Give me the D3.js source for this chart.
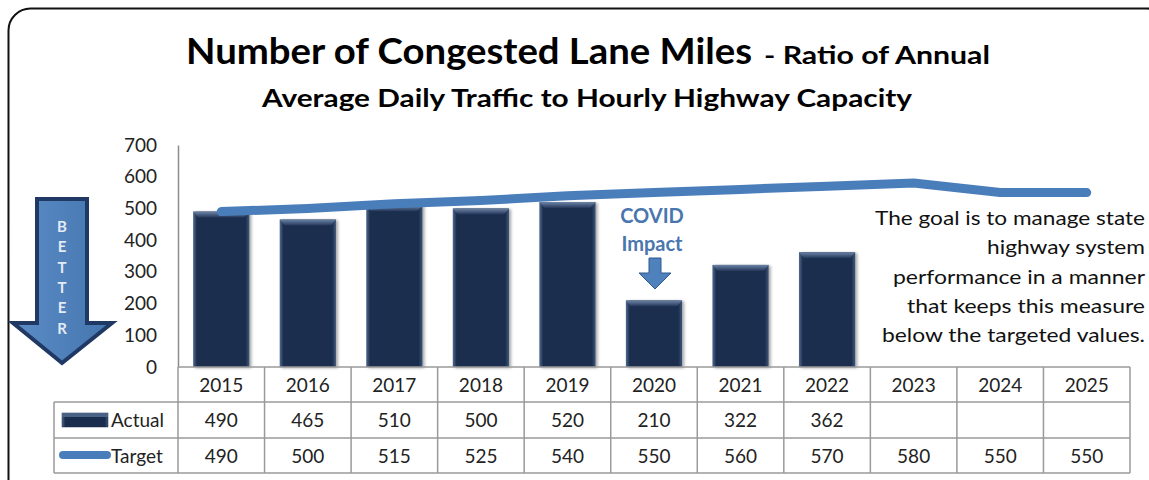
<!DOCTYPE html>
<html>
<head>
<meta charset="utf-8">
<script src="https://cdn.jsdelivr.net/npm/d3@7"></script>
<style>
  body { margin: 0; background: #fff; }
  svg { display: block; font-family: Lato, "Open Sans", sans-serif; }
</style>
</head>
<body>
<svg id="chart" width="1149" height="480"></svg>
<script>
// chart data
var years = ["2015","2016","2017","2018","2019","2020","2021","2022","2023","2024","2025"];
var actual = [490, 465, 510, 500, 520, 210, 322, 362, null, null, null];
var target = [490, 500, 515, 525, 540, 550, 560, 570, 580, 550, 550];
var yTicks = [0, 100, 200, 300, 400, 500, 600, 700];
var noteLines = ["The goal is to manage state", "highway system", "performance in a manner",
                 "that keeps this measure", "below the targeted values."];

var svg = d3.select("#chart");
var defs = svg.append("defs");

// bar bevel look
var barGrad = defs.append("linearGradient").attr("id", "barGrad").attr("x1", 0).attr("x2", 1);
barGrad.append("stop").attr("offset", "0%").attr("stop-color", "#506a8e");
barGrad.append("stop").attr("offset", "7%").attr("stop-color", "#1b2d4e");
barGrad.append("stop").attr("offset", "93%").attr("stop-color", "#1b2d4e");
barGrad.append("stop").attr("offset", "100%").attr("stop-color", "#3f5779");
var topGrad = defs.append("linearGradient").attr("id", "topGrad").attr("x1", 0).attr("x2", 0).attr("y1", 0).attr("y2", 1);
topGrad.append("stop").attr("offset", "0%").attr("stop-color", "#6d84a6");
topGrad.append("stop").attr("offset", "100%").attr("stop-color", "#24375a");
var shadow = defs.append("filter").attr("id", "shadow").attr("x", "-20%").attr("width", "140%");
shadow.append("feDropShadow").attr("dx", 2).attr("dy", 1).attr("stdDeviation", 1.5)
      .attr("flood-color", "#000").attr("flood-opacity", 0.35);
var arrowGrad = defs.append("linearGradient").attr("id", "arrowGrad").attr("x1", 0).attr("x2", 1);
arrowGrad.append("stop").attr("offset", "0%").attr("stop-color", "#5b8cc6");
arrowGrad.append("stop").attr("offset", "100%").attr("stop-color", "#4475ad");

// outer frame (runs off the right/bottom edge)
svg.append("rect")
   .attr("x", 8.5).attr("y", 8.5).attr("width", 1160).attr("height", 500)
   .attr("rx", 22).attr("fill", "none").attr("stroke", "#111").attr("stroke-width", 2);

// titles
svg.append("text").attr("x", 186).attr("y", 64)
   .attr("font-size", 37).attr("font-weight", "bold").attr("fill", "#000")
   .attr("textLength", 566).attr("lengthAdjust", "spacingAndGlyphs")
   .text("Number of Congested Lane Miles");
svg.append("text").attr("x", 764).attr("y", 64)
   .attr("font-size", 24).attr("font-weight", "bold").attr("fill", "#000")
   .attr("textLength", 226).attr("lengthAdjust", "spacingAndGlyphs")
   .text("- Ratio of Annual");
svg.append("text").attr("x", 262).attr("y", 107)
   .attr("font-size", 25).attr("font-weight", "bold").attr("fill", "#000")
   .attr("textLength", 650).attr("lengthAdjust", "spacingAndGlyphs")
   .text("Average Daily Traffic to Hourly Highway Capacity");

// scales
var left = 178, right = 1130, y0 = 367, yTop = 145;
var x = d3.scaleBand().domain(years).range([left, right]);
var y = d3.scaleLinear().domain([0, 700]).range([y0, yTop]);
var cx = function(d) { return x(d) + x.bandwidth() / 2; };
var barW = x.bandwidth() * 0.65;

// y axis
var yAxis = svg.append("g").attr("transform", "translate(" + left + ",0)")
   .call(d3.axisLeft(y).tickValues(yTicks).tickSize(0).tickPadding(21));
yAxis.select(".domain").attr("stroke", "#8c8c8c").attr("stroke-width", 1.5);
yAxis.selectAll("text").attr("font-size", 19).attr("fill", "#222")
     .attr("font-family", "Lato, sans-serif");

// bars
var barData = years.map(function(d, i) { return {year: d, v: actual[i]}; })
                   .filter(function(d) { return d.v != null; });
var bars = svg.append("g").selectAll("g").data(barData).enter().append("g")
   .attr("filter", "url(#shadow)");
bars.append("rect")
   .attr("x", function(d) { return cx(d.year) - barW / 2; })
   .attr("y", function(d) { return y(d.v); })
   .attr("width", barW)
   .attr("height", function(d) { return y0 - y(d.v); })
   .attr("fill", "url(#barGrad)");
bars.append("path")
   .attr("d", function(d) {
       var x0 = cx(d.year) - barW / 2, x1 = x0 + barW, t = y(d.v);
       return "M" + x0 + "," + t + "L" + x1 + "," + t + "L" + (x1 - 5) + "," + (t + 6) +
              "L" + (x0 + 5) + "," + (t + 6) + "Z";
   })
   .attr("fill", "url(#topGrad)");

// target line
var line = d3.line().x(function(d) { return cx(d.year); }).y(function(d) { return y(d.v); });
svg.append("path")
   .datum(years.map(function(d, i) { return {year: d, v: target[i]}; }))
   .attr("d", line)
   .attr("fill", "none").attr("stroke", "#4a7ebb").attr("stroke-width", 9)
   .attr("stroke-linecap", "round").attr("stroke-linejoin", "round");

// data table
var gridColor = "#9a9a9a";
var rowTop = [367, 402, 438, 473];
var tbl = svg.append("g").attr("stroke", gridColor).attr("stroke-width", 1.5);
tbl.append("line").attr("x1", left).attr("x2", right).attr("y1", rowTop[0]).attr("y2", rowTop[0]);
[1, 2, 3].forEach(function(r) {
    tbl.append("line").attr("x1", 54).attr("x2", right).attr("y1", rowTop[r]).attr("y2", rowTop[r]);
});
tbl.append("line").attr("x1", 54).attr("x2", 54).attr("y1", rowTop[1]).attr("y2", rowTop[3]);
tbl.append("line").attr("x1", left).attr("x2", left).attr("y1", rowTop[0]).attr("y2", rowTop[3]);
tbl.selectAll("line.col").data(years).enter().append("line").attr("class", "col")
   .attr("x1", function(d) { return x(d) + x.bandwidth(); })
   .attr("x2", function(d) { return x(d) + x.bandwidth(); })
   .attr("y1", rowTop[0]).attr("y2", rowTop[3]);

var cellText = function(vals, base) {
    svg.append("g").selectAll("text").data(years).enter().append("text")
       .attr("x", cx).attr("y", base)
       .attr("text-anchor", "middle").attr("font-size", 19).attr("fill", "#222")
       .text(function(d, i) { return vals[i] == null ? "" : vals[i]; });
};
cellText(years, 392);
cellText(actual, 427);
cellText(target, 463);

// legend keys
svg.append("rect").attr("x", 62).attr("y", 413).attr("width", 46).attr("height", 14)
   .attr("fill", "url(#barGrad)").attr("stroke", "#1b2d4e").attr("stroke-width", 0.5);
svg.append("rect").attr("x", 62).attr("y", 413).attr("width", 46).attr("height", 4)
   .attr("fill", "#4a6285");
svg.append("text").attr("x", 111).attr("y", 427).attr("font-size", 19).attr("fill", "#222").text("Actual");
svg.append("line").attr("x1", 63).attr("x2", 107).attr("y1", 455).attr("y2", 455)
   .attr("stroke", "#4a7ebb").attr("stroke-width", 8).attr("stroke-linecap", "round");
svg.append("text").attr("x", 111).attr("y", 463).attr("font-size", 19).attr("fill", "#222").text("Target");

// BETTER arrow
svg.append("path")
   .attr("d", "M37,199 L87,199 L87,323 L112,323 L62,363 L13,323 L37,323 Z")
   .attr("fill", "url(#arrowGrad)").attr("stroke", "#1f3864").attr("stroke-width", 4)
   .attr("stroke-linejoin", "miter");
svg.append("g").selectAll("text").data("BETTER".split("")).enter().append("text")
   .attr("x", 62).attr("y", function(d, i) { return 232 + i * 20.3; })
   .attr("text-anchor", "middle").attr("font-size", 15).attr("font-weight", "bold")
   .attr("fill", "#e3ebf6").text(function(d) { return d; });

// COVID note
var covidX = cx("2020") + 1;
svg.append("text").attr("x", covidX - 3).attr("y", 223).attr("text-anchor", "middle")
   .attr("font-size", 20).attr("font-weight", "bold").attr("fill", "#4a76ad").text("COVID");
svg.append("text").attr("x", covidX - 3).attr("y", 251).attr("text-anchor", "middle")
   .attr("font-size", 20).attr("font-weight", "bold").attr("fill", "#4a76ad").text("Impact");
svg.append("path")
   .attr("d", "M" + (covidX - 6) + ",258 L" + (covidX + 6) + ",258 L" + (covidX + 6) + ",273 L" +
              (covidX + 16) + ",273 L" + covidX + ",289 L" + (covidX - 16) + ",273 L" +
              (covidX - 6) + ",273 Z")
   .attr("fill", "#4f81bd").attr("stroke", "#2f5a8f").attr("stroke-width", 1);

// goal note, right aligned
var noteW = [270, 158, 252, 238, 263];
svg.append("g").selectAll("text").data(noteLines).enter().append("text")
   .attr("x", 1145).attr("y", function(d, i) { return 225 + i * 29.3; })
   .attr("text-anchor", "end").attr("font-size", 20).attr("fill", "#111")
   .attr("textLength", function(d, i) { return noteW[i]; })
   .attr("lengthAdjust", "spacingAndGlyphs")
   .text(function(d) { return d; });
</script>
</body>
</html>
